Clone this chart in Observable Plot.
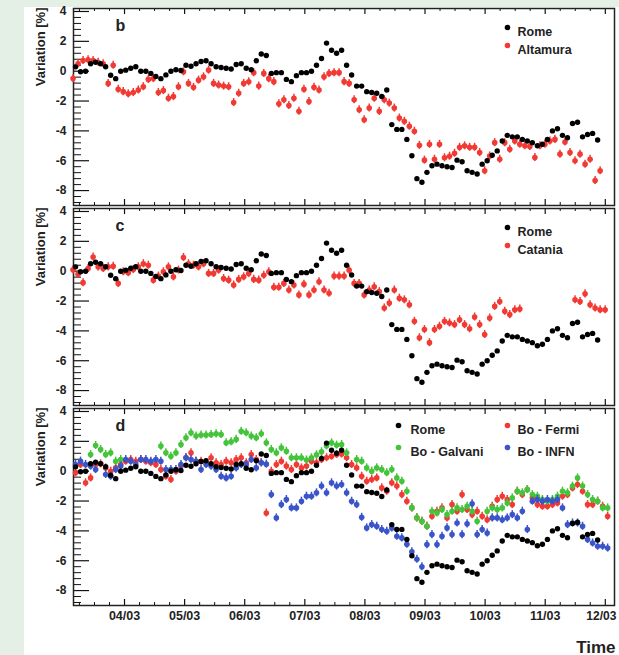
<!DOCTYPE html>
<html>
<head>
<meta charset="utf-8">
<script src="https://cdn.jsdelivr.net/npm/d3@7"></script>
<script src="https://cdn.jsdelivr.net/npm/@observablehq/plot@0.6"></script>
<style>
html, body { margin: 0; padding: 0; background: #e4efe6; }
#wrap { position: relative; width: 619px; height: 655px; overflow: hidden; }
#paper { position: absolute; left: 24px; top: 7px; right: 0; bottom: 0; background: #ffffff; }
#wrap svg { position: absolute; left: 0; top: 0; }
</style>
</head>
<body>
<div id="wrap"><div id="paper"></div></div>
<script>
// ---- sampling (months of 2003) ----
const t0 = 3.185;      // first Rome sample
const dt = 0.08353;    // sampling step (~2.5 days)

// ---- tick labels ----
const monthTicks = [4, 5, 6, 7, 8, 9, 10, 11, 12];
const monthLabel = m => (m < 10 ? "0" : "") + m + "/03";
const yMajor = [-8, -6, -4, -2, 0, 2, 4];

// ---- series values (variation, %) ----
const rome = [0.29,-0.04,0.0,0.5,0.6,0.5,0.3,-0.27,-0.5,0.0,
0.07,0.2,0.3,0.0,0.0,-0.15,-0.35,-0.5,-0.25,0.0,
0.1,0.05,0.4,0.33,0.5,0.65,0.7,0.5,0.3,0.25,
0.2,0.15,0.45,0.5,0.2,0.1,0.7,1.15,1.05,-0.15,
-0.1,-0.1,-0.55,-0.7,-0.3,-0.1,-0.1,0.0,0.4,0.85,
1.88,1.4,1.2,1.4,0.4,-0.26,-1.0,-1.0,-1.37,-1.43,
-1.48,-1.7,-1.26,-3.58,-3.9,-3.9,-4.57,-5.67,-7.2,-7.44,
-6.78,-6.34,-6.23,-6.34,-6.4,-6.45,-5.96,-6.07,-6.67,-6.78,
-6.89,-6.23,-6.0,-5.63,-5.34,-4.68,-4.3,-4.4,-4.4,-4.57,
-4.68,-4.79,-5.0,-4.9,-4.57,-4.0,-3.86,-4.3,-4.46,-3.51,
-3.42,-4.4,-4.24,-4.17,-4.61];

// Altamura and Catania start half a step before Rome
const altamura = [-0.49,0.5,0.72,0.77,0.72,0.6,0.5,-0.82,0.4,-1.21,
-1.37,-1.52,-1.43,-1.26,-1.04,-0.55,-0.49,-1.43,-1.3,-1.81,
-1.7,-1.04,-0.04,-0.82,-1.08,-0.6,-0.38,0.07,-0.82,-0.93,
-1.0,-1.04,-2.1,-1.48,-0.82,-0.71,-0.1,-1.0,-0.15,-0.5,
-0.7,-2.19,-1.92,-2.3,-1.81,-2.68,-1.21,-2.03,-1.08,-1.26,
-0.38,-0.15,-0.1,-0.1,-0.7,-0.82,-1.92,-2.58,-3.25,-2.47,
-1.81,-2.69,-1.92,-2.14,-2.47,-3.14,-3.36,-3.69,-4.02,-4.97,
-5.96,-4.9,-5.9,-4.9,-5.8,-5.7,-5.5,-5.1,-5.0,-5.1,
-5.1,-5.45,-6.67,-5.68,-4.79,-5.9,-4.79,-5.23,-4.68,-4.9,
-5.0,-5.05,-5.78,-5.0,-4.9,-4.68,-4.57,-5.56,-4.75,-5.45,
-6.0,-5.56,-6.23,-5.9,-7.33,-6.67];

const catania = [0.1,-0.2,-0.77,0.18,0.95,0.29,0.18,0.29,0.33,-0.82,
-0.04,-0.1,0.11,0.29,0.5,0.4,-0.6,-0.33,-0.04,0.29,
-0.38,0.07,0.92,0.5,0.4,0.29,0.5,-0.15,-0.15,0.07,
-0.49,-0.6,-0.93,-0.55,-0.38,-0.15,-0.55,-0.6,-0.27,-0.04,
-1.08,-1.08,-0.82,-1.26,-0.93,-1.59,-0.87,-1.59,-1.26,-0.71,
-1.26,-1.48,-0.33,-0.33,-0.33,0.07,-0.82,-0.82,-1.59,-1.26,
-1.04,-1.37,-2.47,-2.14,-1.26,-1.81,-1.92,-2.25,-3.36,-4.46,
-3.91,-4.79,-3.91,-3.69,-3.36,-3.47,-3.58,-3.25,-3.58,-3.86,
-3.07,-3.58,-4.24,-3.14,-2.36,-2.03,-2.69,-2.91,-2.58,-2.54,
null,null,null,null,null,null,null,null,null,null,
-1.92,-2.03,-1.52,-2.25,-2.47,-2.58,-2.58];

const boFermi = [-0.11,0.45,-0.78,-0.45,0.45,0.49,0.22,0.0,0.22,0.45,
0.67,0.78,0.67,0.78,0.67,0.56,0.45,0.11,-0.34,-0.56,
0.0,0.34,0.9,1.23,0.67,0.67,0.56,0.9,0.56,0.45,
0.67,0.56,0.78,0.9,0.56,1.12,0.78,0.56,-2.8,0.0,
0.45,0.67,0.34,0.11,0.45,0.22,0.34,0.67,0.56,0.78,
0.9,1.0,1.12,1.15,0.9,0.45,0.22,-0.34,-0.67,-0.56,
-0.45,-1.12,-1.34,-0.78,-1.0,-1.57,-2.01,-2.46,-3.13,-3.36,
-3.69,-3.02,-2.68,-2.46,-3.13,-2.24,-2.68,-1.57,-2.57,-2.91,
-2.68,-3.02,-3.25,-2.35,-1.9,-1.68,-1.9,-2.24,-1.34,-1.57,
-1.23,-1.79,-2.24,-2.35,-2.35,-2.24,-2.13,-1.68,-1.57,-1.12,
-0.9,-1.34,-2.24,-2.24,-2.01,-2.35,-3.02];

const boGalvani = [null,null,null,1.12,1.72,1.45,1.12,1.23,0.67,0.78,
null,null,null,null,null,null,null,1.68,1.23,1.0,
1.23,1.79,2.24,2.57,2.35,2.42,2.42,2.46,2.5,2.46,
1.9,1.97,2.13,2.68,2.57,2.35,2.24,2.5,1.9,1.45,
1.23,1.57,1.34,0.9,0.9,0.9,0.75,0.9,1.1,1.3,
1.7,1.9,1.75,1.79,1.23,null,0.78,0.67,0.22,0.0,
0.22,0.11,-0.11,0.11,-0.45,-0.67,-1.34,-2.46,-3.13,-3.36,
-3.69,-2.68,-2.8,-2.57,-2.91,-2.68,-2.46,-2.57,-2.35,-2.68,
-3.36,null,-2.68,-2.46,-2.57,-2.46,-2.13,-1.79,-1.34,-1.45,
-1.23,-1.57,-1.68,-1.9,-2.01,-1.9,-1.68,-1.34,-1.45,-1.0,
-0.45,-1.0,-1.57,-1.9,-2.01,-2.46,-2.46];

const boInfn = [0.45,0.67,0.45,0.34,0.11,null,-0.22,-0.34,0.11,0.34,
0.78,0.67,0.45,0.78,0.78,0.67,0.78,0.67,0.11,0.11,
0.11,0.45,0.9,0.78,0.67,0.11,0.45,0.34,0.11,-0.34,
-0.45,-0.34,0.22,0.45,0.45,0.78,0.22,0.56,0.47,-1.57,
-3.13,-2.24,-1.9,-2.46,-2.46,-2.01,-1.68,-1.68,-1.45,-1.0,
-1.45,-0.78,-1.0,-0.9,-1.45,-2.01,-2.24,-3.09,-3.8,-3.58,
-3.69,-3.91,-4.03,-3.8,-4.36,-4.47,-4.9,-5.4,-5.9,-6.4,
-4.92,-4.25,-4.92,-4.36,-3.8,-4.25,-3.47,-4.25,-3.53,-2.19,
-4.25,-3.91,-4.14,-3.13,-3.13,-3.25,-3.13,-2.91,-3.13,-2.68,
-3.91,-2.01,-1.9,-2.01,-1.9,-2.01,-1.9,-2.46,-3.58,-3.47,
-3.47,-3.69,-4.58,-4.81,-5.03,-5.03,-5.15];

// ---- styling ----
const BLACK = "#000000", RED = "#f23a34", GREEN = "#43c43a", BLUE = "#3a55c9";
const FONT = "'Liberation Sans', Arial, Helvetica, sans-serif";
const W = 619, H = 655;
const ML = 73, MR = 5, FH = 197;
const FW = W - ML - MR;
const xDomain = [3.151, 12.153];
const yDomain = [-9, 4.2];

const minorX = d3.range(13, 49).map(k => k / 4).filter(m => m % 1 !== 0);
const minorY = d3.range(-22, 11).filter(k => k % 5 !== 0).map(k => k * 0.4);

function pts(values, start) {
  return values.map((v, i) => ({t: start + i * dt, v})).filter(d => d.v !== null);
}

function panel(cfg) {
  const marks = [];
  // inward ticks
  marks.push(Plot.tickY(yMajor, {y: d => d, insetRight: FW - 16, stroke: "#111", strokeWidth: 1.2}));
  marks.push(Plot.tickY(minorY, {y: d => d, insetRight: FW - 8, stroke: "#111", strokeWidth: 1}));
  marks.push(Plot.tickX(monthTicks, {x: d => d, insetTop: FH - 6, stroke: "#111", strokeWidth: 1.2}));
  marks.push(Plot.tickX(minorX, {x: d => d, insetTop: FH - 3, stroke: "#111", strokeWidth: 1}));
  marks.push(Plot.tickX(monthTicks, {x: d => d, insetBottom: FH - 6, stroke: "#111", strokeWidth: 1.2}));
  marks.push(Plot.tickX(minorX, {x: d => d, insetBottom: FH - 3, stroke: "#111", strokeWidth: 1}));
  marks.push(Plot.frame({stroke: "#222", strokeWidth: 1.5}));
  marks.push(Plot.axisY(yMajor, {tickSize: 0, tickPadding: 7, label: null, tickFormat: d => String(d),
    fontSize: 12, fontWeight: "bold", fill: "#222"}));
  marks.push(Plot.text(["Variation [%]"], {text: d => d, frameAnchor: "top-left", dx: -38, dy: -1,
    rotate: -90, textAnchor: "end", fontSize: 13, fontWeight: "bold", fill: "#222"}));
  marks.push(Plot.text([cfg.letter], {text: d => d, frameAnchor: "top-left", dx: 42, dy: 22,
    lineAnchor: "bottom", textAnchor: "start", fontSize: 16, fontWeight: "bold", fill: "#222"}));
  // data
  for (const s of cfg.layers) {
    const data = pts(s.values, s.start);
    if (s.err) marks.push(Plot.ruleX(data, {x: "t", y1: d => d.v - 0.27, y2: d => d.v + 0.27, stroke: s.color, strokeWidth: 1.5}));
    marks.push(Plot.dot(data, {x: "t", y: "v", r: s.err ? 2.8 : 2.7, fill: s.color}));
  }
  // legend
  const colM = [-216, -107], colT = [-204, -97];
  for (const e of cfg.legend) {
    marks.push(Plot.dot([e.name], {frameAnchor: "top-right", dx: colM[e.col], dy: cfg.rows[e.row], r: 2.8, fill: e.color}));
    marks.push(Plot.text([e.name], {text: d => d, frameAnchor: "top-right", dx: colT[e.col], dy: cfg.rows[e.row],
      textAnchor: "start", fontSize: 12.5, fontWeight: "bold", fill: "#222"}));
  }
  if (cfg.showX) {
    marks.push(Plot.axisX(monthTicks.slice(0, -1), {anchor: "bottom", tickSize: 0, tickPadding: 6, label: null,
      tickFormat: monthLabel, fontSize: 12.5, fontWeight: "bold", fill: "#222"}));
    marks.push(Plot.axisX(monthTicks.slice(-1), {anchor: "bottom", tickSize: 0, tickPadding: 6, label: null,
      tickFormat: monthLabel, fontSize: 12, fontWeight: "bold", fill: "#222", dx: -4}));
    marks.push(Plot.text(["Time"], {text: d => d, frameAnchor: "bottom-right", dx: 1, dy: 47,
      lineAnchor: "bottom", textAnchor: "end", fontSize: 17, fontWeight: "bold", fill: "#222"}));
  }
  return Plot.plot({
    width: W, height: H,
    marginLeft: ML, marginRight: MR, marginTop: cfg.top, marginBottom: H - cfg.top - FH,
    x: {type: "linear", domain: xDomain, axis: null},
    y: {type: "linear", domain: yDomain, axis: null},
    style: {background: "transparent", overflow: "visible", fontFamily: FONT, color: "#222"},
    marks
  });
}

const wrap = document.getElementById("wrap");
wrap.appendChild(panel({
  top: 8, letter: "b", rows: [19, 37],
  layers: [{values: altamura, start: t0 - dt / 2, color: RED, err: true}, {values: rome, start: t0, color: BLACK}],
  legend: [{name: "Rome", color: BLACK, col: 1, row: 0}, {name: "Altamura", color: RED, col: 1, row: 1}]
}));
wrap.appendChild(panel({
  top: 208, letter: "c", rows: [19, 37],
  layers: [{values: catania, start: t0 - dt / 2, color: RED, err: true}, {values: rome, start: t0, color: BLACK}],
  legend: [{name: "Rome", color: BLACK, col: 1, row: 0}, {name: "Catania", color: RED, col: 1, row: 1}]
}));
wrap.appendChild(panel({
  top: 408, letter: "d", rows: [17, 39], showX: true,
  layers: [
    {values: boFermi, start: t0, color: RED, err: true},
    {values: boGalvani, start: t0, color: GREEN, err: true},
    {values: boInfn, start: t0, color: BLUE, err: true},
    {values: rome, start: t0, color: BLACK}
  ],
  legend: [
    {name: "Rome", color: BLACK, col: 0, row: 0}, {name: "Bo - Fermi", color: RED, col: 1, row: 0},
    {name: "Bo - Galvani", color: GREEN, col: 0, row: 1}, {name: "Bo - INFN", color: BLUE, col: 1, row: 1}
  ]
}));
</script>
</body>
</html>
